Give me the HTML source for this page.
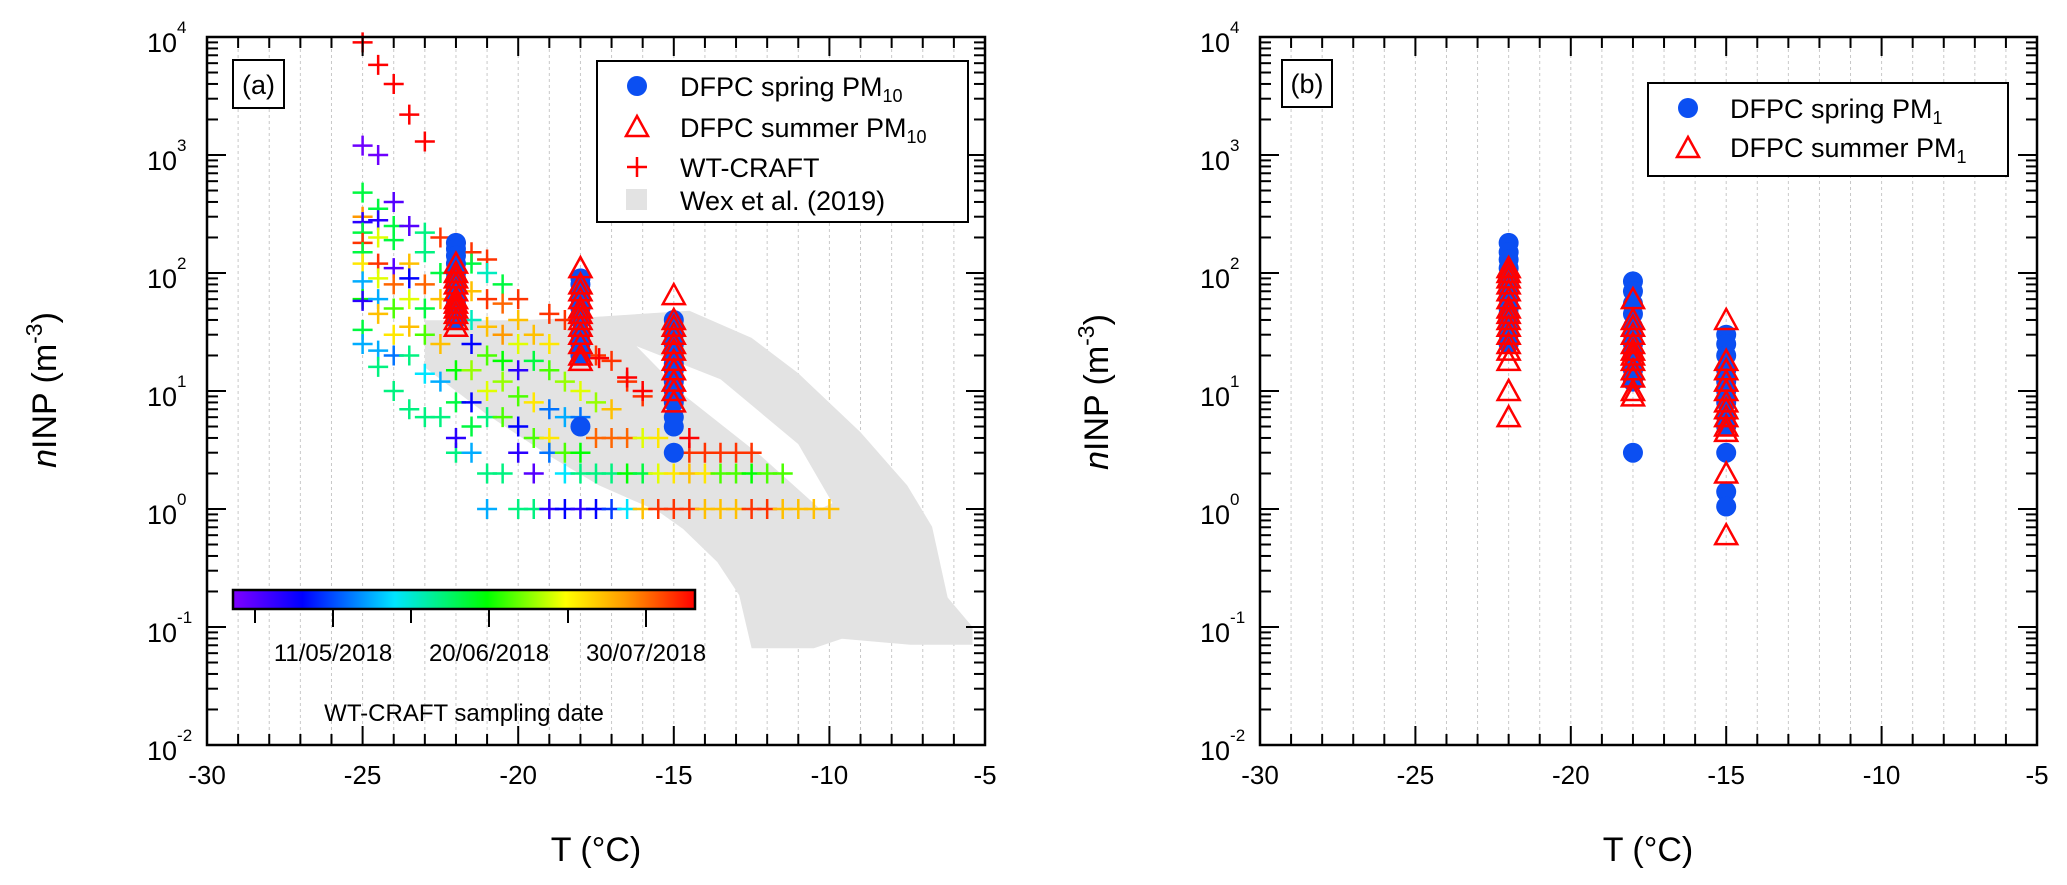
<!DOCTYPE html>
<html><head><meta charset="utf-8"><style>
html,body{margin:0;padding:0;background:#fff;}
svg{display:block;font-family:"Liberation Sans",Arial,sans-serif;}
</style></head><body>
<svg id="chart" width="2067" height="885" viewBox="0 0 2067 885" xmlns="http://www.w3.org/2000/svg"></svg>
<script>
// ---------- data ----------
const wexUpperT = [-23,-20,-18,-14.5,-12.5,-11,-9,-7.5,-6.7,-6.2,-5.4,-5.4];
const wexUpperLog = [1.6,1.6,1.62,1.68,1.45,1.15,0.65,0.2,-0.15,-0.75,-1.0,-1.15];
const wexLowerT = [-7.4,-9.6,-10.5,-12.5,-12.9,-13.6,-14.7,-15.5,-17.4,-19,-21,-23];
const wexLowerLog = [-1.15,-1.1,-1.18,-1.18,-0.73,-0.45,-0.17,-0.02,0.2,0.45,0.8,1.2];
const wexGapT = [-16.2,-13.5,-11,-9.9,-10.3,-12.2,-14.6];
const wexGapLog = [1.38,1.1,0.55,0.05,0.0,0.45,0.95];

const craftT = [-25,-24.5,-24,-23.5,-23,-25,-24.5,
-25,-24.5,-24,-24,-23.5,-23,-22.5,-22,-21.5,-21,
-25,-25,-25,-25,-25,-25,-25,-25,-25,-25,-25,
-24.5,-24.5,-24.5,-24.5,-24.5,-24.5,-24.5,-24.5,
-24,-24,-24,-24,-24,-24,-24,
-23.5,-23.5,-23.5,-23.5,-23.5,-23.5,
-23,-23,-23,-23,-23,-23,
-22.5,-22.5,-22.5,-22.5,-22.5,
-22,-22,-22,-22,-22,
-21.5,-21.5,-21.5,-21.5,-21.5,-21.5,-21.5,-21.5,
-21,-21,-21,-21,-21,-21,-21,-21,
-20.5,-20.5,-20.5,-20.5,-20.5,-20.5,-20.5,
-20,-20,-20,-20,-20,-20,-20,-20,
-19.5,-19.5,-19.5,-19.5,-19.5,-19.5,
-19,-19,-19,-19,-19,-19,-19,
-18.5,-18.5,-18.5,-18.5,-18.5,-18.5,
-18,-18,-18,-18,-18,
-17.5,-17.5,-17.5,-17.5,-17.5,
-17,-17,-17,-17,-17,
-16.5,-16.5,-16.5,-16.5,
-16,-16,-16,-16,
-15.5,-15.5,-15.5,
-15,-15,
-14.5,-14.5,-14.5,
-14,-14,-14,-13.5,-13.5,-13.5,-13,-13,-13,-12.5,-12.5,-12.5,-12,-12,-11.5,-11.5,-11,-10.5,-10,
-17.4,-16.5,-16,-14.5];
const craftV = [9000,5800,4000,2200,1300,1200,1000,
480,350,400,250,250,220,200,180,150,130,
300,270,220,180,150,120,85,60,58,33,25,
280,200,120,90,60,45,22,16,
190,110,80,50,30,20,10,
120,90,60,35,20,7,
150,80,50,30,14,6,
100,60,25,12,6,
40,15,8,3,4,
120,70,40,25,15,8,5,3,
100,60,35,20,10,6,2,1,
80,55,30,18,12,6,2,
60,40,25,15,9,5,3,1,
30,18,8,4,2,1,
45,25,15,7,4,3,1,
40,12,6,3,2,1,
10,6,3,2,1,
20,8,4,2,1,
18,7,4,2,1,
12,4,2,1,
9,4,2,1,
4,2,1,
2,1,
3,2,1,
3,2,1,3,2,1,3,2,1,3,2,1,2,1,2,1,1,1,1,
19,13,10,4];
const craftDate = [1,1,1,1,1,0.02,0.02,
0.5,0.5,0.05,0.5,0.05,0.45,0.95,0.95,0.95,0.95,
0.85,0.1,0.5,0.95,0.5,0.75,0.3,0.55,0.1,0.5,0.3,
0.1,0.7,0.95,0.7,0.3,0.8,0.3,0.45,
0.5,0.05,0.9,0.6,0.75,0.25,0.45,
0.8,0.15,0.7,0.8,0.45,0.45,
0.45,0.9,0.5,0.6,0.35,0.45,
0.5,0.8,0.8,0.3,0.45,
0.5,0.55,0.5,0.45,0.1,
0.5,0.8,0.4,0.15,0.65,0.15,0.5,0.3,
0.4,0.95,0.8,0.6,0.7,0.45,0.45,0.3,
0.5,0.9,0.85,0.55,0.65,0.6,0.45,
0.95,0.8,0.7,0.1,0.6,0.15,0.1,0.45,
0.8,0.5,0.75,0.6,0.05,0.45,
0.95,0.75,0.6,0.25,0.75,0.25,0.1,
0.95,0.65,0.3,0.6,0.35,0.15,
0.7,0.25,0.55,0.45,0.1,
0.95,0.65,0.9,0.45,0.15,
0.95,0.8,0.9,0.45,0.2,
0.95,0.9,0.55,0.35,
0.95,0.7,0.5,0.8,
0.75,0.7,0.95,
0.75,0.95,
0.95,0.8,0.95,
0.95,0.75,0.8,0.95,0.6,0.8,0.95,0.6,0.8,0.95,0.55,0.95,0.6,0.95,0.6,0.8,0.8,0.8,0.8,
1,1,1,1];

const springA_T = [-22,-22,-22,-22,-22,-22,-22,-22,-22,-22,-22,-22,-22,-18,-18,-18,-18,-18,-18,-18,-18,-18,-18,-15,-15,-15,-15,-15,-15,-15,-15,-15,-15,-15,-15,-15];
const springA_V = [180,160,140,120,100,90,80,70,60,55,50,45,40,90,80,70,60,50,40,30,25,20,5,40,35,30,25,20,17,15,12,10,8,6,5,3];
const summerA_T = [-22,-22,-22,-22,-22,-22,-22,-22,-22,-22,-22,-18,-18,-18,-18,-18,-18,-18,-18,-18,-18,-18,-18,-15,-15,-15,-15,-15,-15,-15,-15,-15,-15,-15];
const summerA_V = [120,100,90,80,70,60,55,50,45,40,35,110,80,70,60,50,45,40,35,30,25,20,18,65,40,35,30,25,22,18,15,12,10,8];
const springB_T = [-22,-22,-22,-22,-22,-22,-22,-22,-22,-22,-22,-22,-22,-22,-18,-18,-18,-18,-18,-18,-18,-18,-18,-18,-18,-15,-15,-15,-15,-15,-15,-15,-15,-15,-15,-15,-15];
const springB_V = [180,150,130,110,90,80,70,60,50,45,40,35,30,25,85,70,55,45,35,30,25,20,15,12,3,30,25,20,15,12,10,8,6,5,3,1.4,1.05];
const summerB_T = [-22,-22,-22,-22,-22,-22,-22,-22,-22,-22,-22,-22,-22,-22,-22,-22,-18,-18,-18,-18,-18,-18,-18,-18,-18,-18,-18,-18,-15,-15,-15,-15,-15,-15,-15,-15,-15,-15,-15,-15];
const summerB_V = [110,100,90,80,70,60,50,45,40,35,30,25,22,18,10,6,60,40,35,30,25,22,20,18,15,13,10,9,40,18,15,12,10,8,7,6,5,4.5,2,0.6];

const xTicks = [-30,-25,-20,-15,-10,-5];
const yDecades = [4,3,2,1,0,-1,-2];
const cbTickLabels = ['11/05/2018','20/06/2018','30/07/2018'];

// ---------- helpers ----------
const NS='http://www.w3.org/2000/svg';
const svg=document.getElementById('chart');
function mk(tag,attrs,parent){const e=document.createElementNS(NS,tag);for(const k in attrs)e.setAttribute(k,attrs[k]);(parent||svg).appendChild(e);return e;}
const TOP=37,BOT=745;
function yS(v){return TOP+(4-Math.log10(v))*(BOT-TOP)/6;}
function yL(l){return TOP+(4-l)*(BOT-TOP)/6;}
function makeX(left,right){return t=>left+(t+30)*(right-left)/25;}
const xA=makeX(207,985), xB=makeX(1260,2037);
const stops=[[0,[127,0,255]],[0.15,[0,0,255]],[0.35,[0,229,255]],[0.55,[0,255,0]],[0.72,[255,255,0]],[0.85,[255,153,0]],[1,[255,0,0]]];
function jet(c){for(let i=1;i<stops.length;i++){if(c<=stops[i][0]){const a=stops[i-1],b=stops[i];const f=(c-a[0])/(b[0]-a[0]);const r=a[1].map((v,j)=>Math.round(v+(b[1][j]-v)*f));return `rgb(${r[0]},${r[1]},${r[2]})`;}}return 'rgb(255,0,0)';}

function drawAxes(g,x,left,right,prefix){
  for(let t=-29;t<=-6;t++){const l=mk('line',{x1:x(t),x2:x(t),y1:TOP,y2:BOT,stroke:'#c8c8c8','stroke-width':1,'stroke-dasharray':'3,3'},g);
    
    }
}
function drawFrame(g,x,left,right,prefix,labelX){
  for(let t=-30;t<=-5;t++){const len=(t%5===0)?19:11;
    mk('line',{x1:x(t),x2:x(t),y1:BOT,y2:BOT-len,stroke:'#000','stroke-width':2},g);
    mk('line',{x1:x(t),x2:x(t),y1:TOP,y2:TOP+len,stroke:'#000','stroke-width':2},g);}
  for(let d=-2;d<=4;d++){
    for(let m=1;m<=9;m++){if(d===4&&m>1)break;const yy=yL(d+Math.log10(m));const len=m===1?19:11;
      mk('line',{x1:left,x2:left+len,y1:yy,y2:yy,stroke:'#000','stroke-width':2},g);
      mk('line',{x1:right,x2:right-len,y1:yy,y2:yy,stroke:'#000','stroke-width':2},g);}
  }
  const fr=mk('rect',{x:left,y:TOP,width:right-left,height:BOT-TOP,fill:'none',stroke:'#000','stroke-width':2.5},g);
  
  
  xTicks.forEach(t=>{const tx=mk('text',{x:x(t),y:784,'font-size':26,'text-anchor':'middle'},g);tx.textContent=String(t);
    
    });
  yDecades.forEach(d=>{const tx=mk('text',{x:labelX,y:yL(d)+15,'font-size':27,'text-anchor':'start'},g);
    
    
    const a=mk('tspan',{},tx);a.textContent='10';
    const b=mk('tspan',{dy:-19,'font-size':17},tx);b.textContent=String(d);});
}
function circles(g,x,Ts,Vs,prefix){Ts.forEach((t,i)=>{const c=mk('circle',{cx:x(t),cy:yS(Vs[i]),r:10,fill:'#0b4ff2'},g);
  
  });}
function tris(g,x,Ts,Vs,prefix){Ts.forEach((t,i)=>{const cx=x(t),cy=yS(Vs[i]);
  const p=mk('polygon',{points:`${cx},${cy-11} ${cx+11},${cy+9} ${cx-11},${cy+9}`,fill:'none',stroke:'#ff0000','stroke-width':2.5},g);
  
  });}

// ---------- panel a ----------
const gA=mk('g',{});


drawAxes(gA,xA,207,985,'panel-a');
let pts=[];wexUpperT.forEach((t,i)=>pts.push(xA(t)+','+yL(wexUpperLog[i])));wexLowerT.forEach((t,i)=>pts.push(xA(t)+','+yL(wexLowerLog[i])));
const wex=mk('polygon',{points:pts.join(' '),fill:'#e3e3e3'},gA);


let gp=[];wexGapT.forEach((t,i)=>gp.push(xA(t)+','+yL(wexGapLog[i])));
const gap=mk('polygon',{points:gp.join(' '),fill:'#ffffff'},gA);


craftT.forEach((t,i)=>{const cx=xA(t),cy=yS(craftV[i]);const col=jet(craftDate[i]);
  const p=mk('path',{d:`M${cx-10},${cy}H${cx+10}M${cx},${cy-10}V${cy+10}`,stroke:col,'stroke-width':2.5,fill:'none'},gA);
  
  });
circles(gA,xA,springA_T,springA_V,'pm10');
tris(gA,xA,summerA_T,summerA_V,'pm10');
drawFrame(gA,xA,207,985,'panel-a',147);
</script>
<svg style="position:absolute;left:0;top:0" width="2067" height="885" xmlns="http://www.w3.org/2000/svg" font-family="Liberation Sans, Arial, sans-serif">
  <defs><linearGradient id="jetg" x1="0" x2="1" y1="0" y2="0">
    <stop offset="0" stop-color="#7f00ff"/><stop offset="0.15" stop-color="#0000ff"/><stop offset="0.35" stop-color="#00e5ff"/><stop offset="0.55" stop-color="#00ff00"/><stop offset="0.72" stop-color="#ffff00"/><stop offset="0.85" stop-color="#ff9900"/><stop offset="1" stop-color="#ff0000"/></linearGradient></defs>
  <g><rect x="233" y="60" width="51" height="48" fill="#fff" stroke="#000" stroke-width="2"/><text x="258.5" y="94" font-size="27" text-anchor="middle">(a)</text></g>
  <g>
    <rect x="597" y="61" width="371" height="161" fill="#fff" stroke="#000" stroke-width="2"/>
    <circle cx="637" cy="86" r="10" fill="#0b4ff2"/>
    <text x="680" y="96" font-size="27">DFPC spring PM<tspan font-size="18" dy="6">10</tspan></text>
    <polygon points="637,116 648,136 626,136" fill="none" stroke="#f00" stroke-width="2.5"/>
    <text x="680" y="137" font-size="27">DFPC summer PM<tspan font-size="18" dy="6">10</tspan></text>
    <path d="M627,167H647M637,157V177" stroke="#f00" stroke-width="2.5"/>
    <text x="680" y="177" font-size="27">WT-CRAFT</text>
    <rect x="626" y="189" width="21" height="21" fill="#e3e3e3"/>
    <text x="680" y="210" font-size="27">Wex et al. (2019)</text>
  </g>
  <g>
    <rect x="233" y="590" width="462" height="19" fill="url(#jetg)" stroke="#000" stroke-width="2.5"/>
    <g stroke="#000" stroke-width="2"><line x1="255" x2="255" y1="609" y2="623"/><line x1="333" x2="333" y1="609" y2="627"/><line x1="411" x2="411" y1="609" y2="623"/><line x1="489" x2="489" y1="609" y2="627"/><line x1="568" x2="568" y1="609" y2="623"/><line x1="646" x2="646" y1="609" y2="627"/></g>
    <text x="333" y="661" font-size="24" text-anchor="middle">11/05/2018</text>
    <text x="489" y="661" font-size="24" text-anchor="middle">20/06/2018</text>
    <text x="646" y="661" font-size="24" text-anchor="middle">30/07/2018</text>
    <text x="464" y="721" font-size="24" text-anchor="middle">WT-CRAFT sampling date</text>
  </g>
  <text x="596" y="861" font-size="34" text-anchor="middle">T (°C)</text>
  <text transform="translate(56,390) rotate(-90)" font-size="34" text-anchor="middle"><tspan font-style="italic">n</tspan>INP (m<tspan font-size="23" dy="-14">-3</tspan><tspan dy="14">)</tspan></text>

  <g><rect x="1282" y="60" width="50" height="47" fill="#fff" stroke="#000" stroke-width="2"/><text x="1307" y="93" font-size="27" text-anchor="middle">(b)</text></g>
  <g>
    <rect x="1648" y="83" width="360" height="93" fill="#fff" stroke="#000" stroke-width="2"/>
    <circle cx="1688" cy="108" r="10" fill="#0b4ff2"/>
    <text x="1730" y="118" font-size="27">DFPC spring PM<tspan font-size="18" dy="6">1</tspan></text>
    <polygon points="1688,137 1699,157 1677,157" fill="none" stroke="#f00" stroke-width="2.5"/>
    <text x="1730" y="157" font-size="27">DFPC summer PM<tspan font-size="18" dy="6">1</tspan></text>
  </g>
  <text x="1648" y="861" font-size="34" text-anchor="middle">T (°C)</text>
  <text transform="translate(1108,392) rotate(-90)" font-size="34" text-anchor="middle"><tspan font-style="italic">n</tspan>INP (m<tspan font-size="23" dy="-14">-3</tspan><tspan dy="14">)</tspan></text>
</svg>
<script>
// ---------- panel b ----------
const gB=mk('g',{});


drawAxes(gB,xB,1260,2037,'panel-b');
circles(gB,xB,springB_T,springB_V,'pm1');
tris(gB,xB,summerB_T,summerB_V,'pm1');
drawFrame(gB,xB,1260,2037,'panel-b',1200);
</script>
</body></html>
